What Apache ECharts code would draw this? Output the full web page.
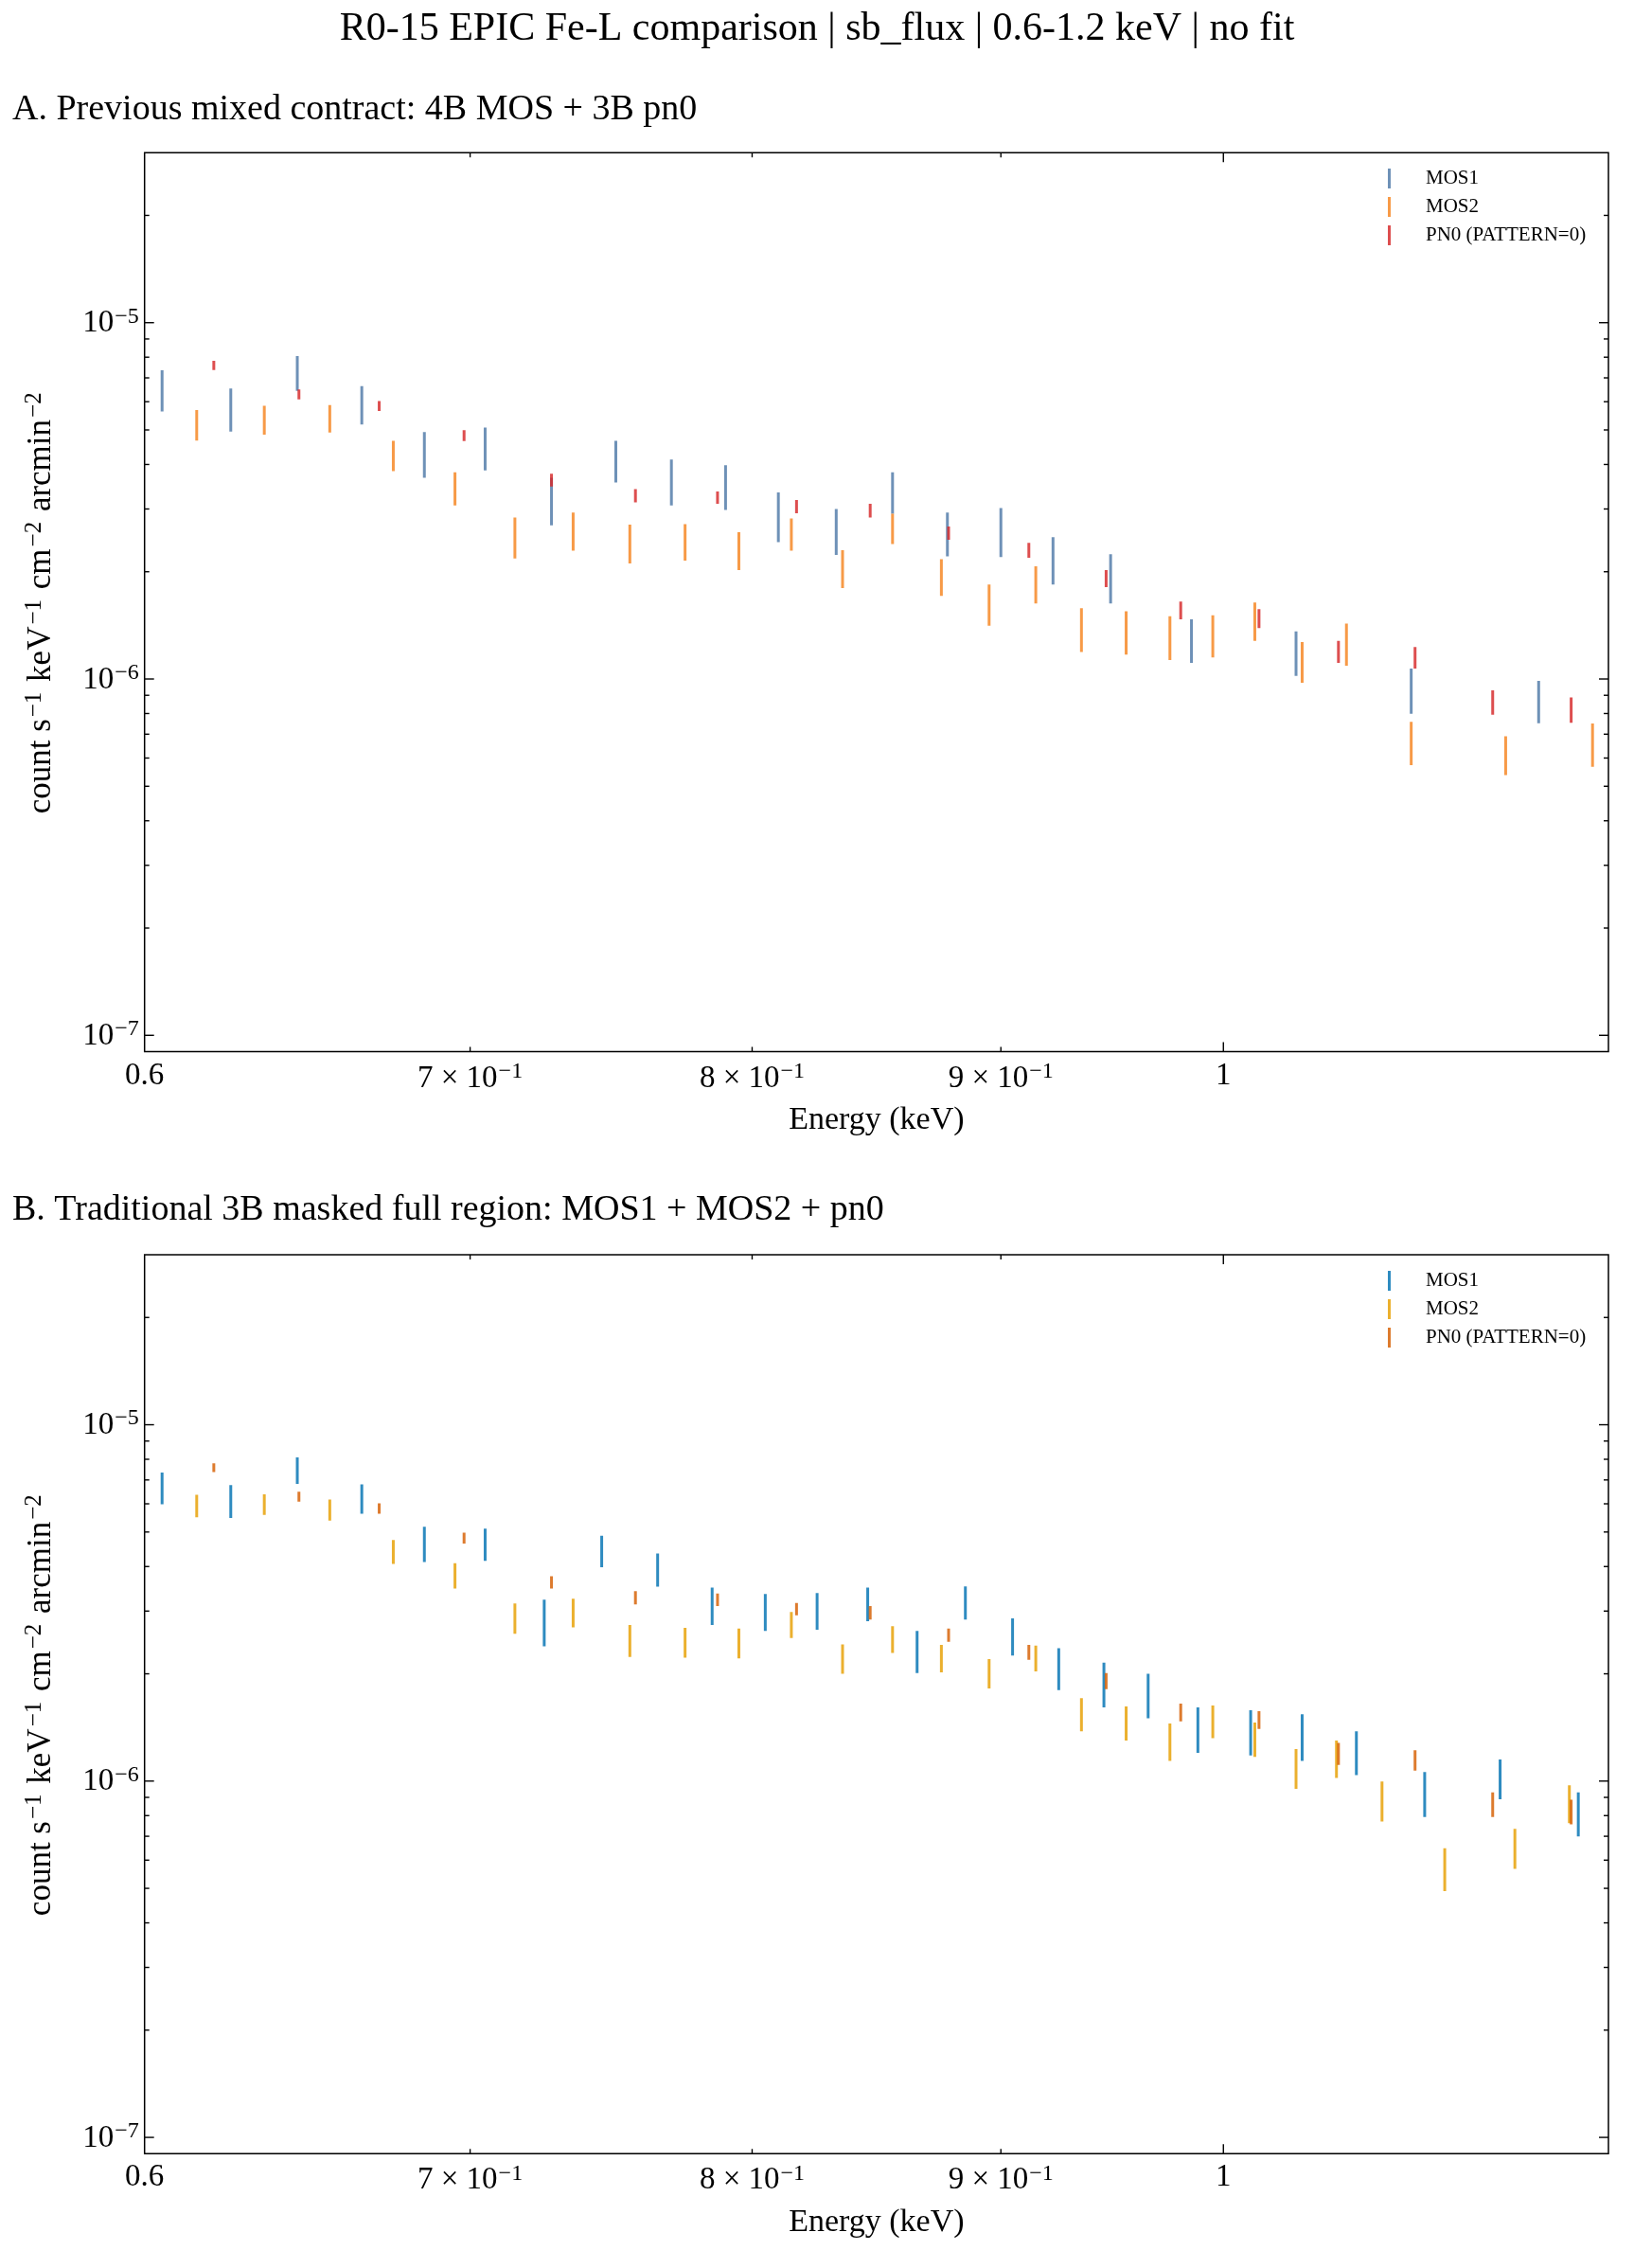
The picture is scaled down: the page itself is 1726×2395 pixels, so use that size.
<!DOCTYPE html>
<html>
<head>
<meta charset="utf-8">
<script src="https://cdn.jsdelivr.net/npm/echarts@6.0.0/dist/echarts.min.js"></script>
<style>
html,body{margin:0;padding:0;background:#ffffff;}
#chart{width:1726px;height:2395px;}
</style>
</head>
<body>
<div id="chart"></div>
<script>
// ---------------- text ----------------
const figTitle = 'R0-15 EPIC Fe-L comparison | sb_flux | 0.6-1.2 keV | no fit';
const panelTitles = ['A. Previous mixed contract: 4B MOS + 3B pn0',
                     'B. Traditional 3B masked full region: MOS1 + MOS2 + pn0'];
const seriesNames = ['MOS1', 'MOS2', 'PN0 (PATTERN=0)'];
const xAxisTitle = 'Energy (keV)';
const yAxisTitle = ['count s', '−1', ' keV', '−1', ' cm', '−2', ' arcmin', '−2'];

// ---------------- axes ----------------
const xRange = [0.6, 1.2];
const yRange = [9e-8, 3e-5];
const xTickValues = [0.6, 0.7, 0.8, 0.9, 1];
const xTickLabels = ['0.6', '7 × 10^−1', '8 × 10^−1', '9 × 10^−1', '1'];
const xMajorTicks = [1];
const xMinorTicks = [0.7, 0.8, 0.9];
const yTickValues = [1e-7, 1e-6, 1e-5];
const yTickLabels = ['10^−7', '10^−6', '10^−5'];
const yMinorTicks = [2e-7, 3e-7, 4e-7, 5e-7, 6e-7, 7e-7, 8e-7, 9e-7,
                     2e-6, 3e-6, 4e-6, 5e-6, 6e-6, 7e-6, 8e-6, 9e-6, 2e-5];

// ---------------- panel A data (energy keV, error-bar low/high) ----------------
const aMos1Energy = [0.605, 0.625, 0.645, 0.665, 0.685, 0.705, 0.7275, 0.750, 0.770, 0.790, 0.810, 0.8325, 0.855, 0.8775, 0.900, 0.9225, 0.948, 0.985, 1.035, 1.093, 1.161];
const aMos1Low  = [5.63e-6, 4.95e-6, 6.44e-6, 5.18e-6, 3.67e-6, 3.85e-6, 2.70e-6, 3.56e-6, 3.07e-6, 2.98e-6, 2.42e-6, 2.23e-6, 2.91e-6, 2.21e-6, 2.20e-6, 1.84e-6, 1.63e-6, 1.11e-6, 1.02e-6, 7.99e-7, 7.51e-7];
const aMos1High = [7.35e-6, 6.53e-6, 8.06e-6, 6.64e-6, 4.93e-6, 5.08e-6, 3.67e-6, 4.66e-6, 4.13e-6, 3.98e-6, 3.34e-6, 3.00e-6, 3.80e-6, 2.93e-6, 3.02e-6, 2.50e-6, 2.24e-6, 1.47e-6, 1.36e-6, 1.07e-6, 9.88e-7];

const aMos2Energy = [0.615, 0.635, 0.655, 0.675, 0.695, 0.715, 0.735, 0.755, 0.775, 0.795, 0.815, 0.835, 0.855, 0.875, 0.895, 0.915, 0.935, 0.955, 0.975, 0.995, 1.015, 1.038, 1.060, 1.093, 1.143, 1.191];
const aMos2Low  = [4.67e-6, 4.85e-6, 4.92e-6, 3.83e-6, 3.07e-6, 2.18e-6, 2.29e-6, 2.11e-6, 2.15e-6, 2.02e-6, 2.29e-6, 1.80e-6, 2.39e-6, 1.71e-6, 1.41e-6, 1.63e-6, 1.19e-6, 1.17e-6, 1.13e-6, 1.15e-6, 1.28e-6, 9.76e-7, 1.09e-6, 5.73e-7, 5.37e-7, 5.67e-7];
const aMos2High = [5.69e-6, 5.84e-6, 5.87e-6, 4.66e-6, 3.80e-6, 2.84e-6, 2.93e-6, 2.71e-6, 2.72e-6, 2.58e-6, 2.82e-6, 2.30e-6, 2.91e-6, 2.17e-6, 1.84e-6, 2.07e-6, 1.58e-6, 1.55e-6, 1.50e-6, 1.51e-6, 1.64e-6, 1.27e-6, 1.43e-6, 7.58e-7, 6.91e-7, 7.50e-7];

const aPn0Energy = [0.620, 0.6455, 0.6705, 0.698, 0.7275, 0.757, 0.787, 0.817, 0.846, 0.878, 0.912, 0.946, 0.980, 1.017, 1.056, 1.095, 1.136, 1.179];
const aPn0Low  = [7.36e-6, 6.09e-6, 5.65e-6, 4.65e-6, 3.47e-6, 3.13e-6, 3.10e-6, 2.92e-6, 2.84e-6, 2.46e-6, 2.19e-6, 1.81e-6, 1.47e-6, 1.39e-6, 1.11e-6, 1.07e-6, 7.94e-7, 7.54e-7];
const aPn0High = [7.81e-6, 6.50e-6, 6.03e-6, 4.99e-6, 3.77e-6, 3.41e-6, 3.36e-6, 3.18e-6, 3.10e-6, 2.68e-6, 2.41e-6, 2.02e-6, 1.65e-6, 1.57e-6, 1.28e-6, 1.23e-6, 9.29e-7, 8.88e-7];

// ---------------- panel B data ----------------
const bMos1Energy = [0.605, 0.625, 0.645, 0.665, 0.685, 0.705, 0.725, 0.745, 0.765, 0.785, 0.805, 0.825, 0.845, 0.865, 0.885, 0.905, 0.925, 0.945, 0.965, 0.988, 1.013, 1.038, 1.065, 1.100, 1.140, 1.183];
const bMos1Low  = [5.98e-6, 5.47e-6, 6.82e-6, 5.63e-6, 4.12e-6, 4.15e-6, 2.39e-6, 3.98e-6, 3.51e-6, 2.74e-6, 2.64e-6, 2.66e-6, 2.81e-6, 2.01e-6, 2.84e-6, 2.25e-6, 1.80e-6, 1.61e-6, 1.50e-6, 1.20e-6, 1.18e-6, 1.14e-6, 1.04e-6, 7.93e-7, 8.89e-7, 6.99e-7];
const bMos1High = [7.34e-6, 6.77e-6, 8.10e-6, 6.80e-6, 5.17e-6, 5.11e-6, 3.23e-6, 4.88e-6, 4.35e-6, 3.49e-6, 3.35e-6, 3.37e-6, 3.49e-6, 2.64e-6, 3.52e-6, 2.86e-6, 2.36e-6, 2.15e-6, 2.00e-6, 1.61e-6, 1.58e-6, 1.54e-6, 1.38e-6, 1.06e-6, 1.15e-6, 9.29e-7];

const bMos2Energy = [0.615, 0.635, 0.655, 0.675, 0.695, 0.715, 0.735, 0.755, 0.775, 0.795, 0.815, 0.835, 0.855, 0.875, 0.895, 0.915, 0.935, 0.955, 0.975, 0.995, 1.015, 1.035, 1.055, 1.078, 1.1105, 1.148, 1.178];
const bMos2Low  = [5.50e-6, 5.58e-6, 5.38e-6, 4.07e-6, 3.47e-6, 2.59e-6, 2.70e-6, 2.23e-6, 2.22e-6, 2.21e-6, 2.52e-6, 2.00e-6, 2.29e-6, 2.02e-6, 1.82e-6, 2.03e-6, 1.38e-6, 1.30e-6, 1.14e-6, 1.32e-6, 1.17e-6, 9.51e-7, 1.02e-6, 7.70e-7, 4.91e-7, 5.67e-7, 7.62e-7];
const bMos2High = [6.36e-6, 6.38e-6, 6.17e-6, 4.75e-6, 4.09e-6, 3.15e-6, 3.25e-6, 2.74e-6, 2.69e-6, 2.68e-6, 2.98e-6, 2.42e-6, 2.72e-6, 2.41e-6, 2.20e-6, 2.40e-6, 1.71e-6, 1.62e-6, 1.45e-6, 1.63e-6, 1.46e-6, 1.23e-6, 1.30e-6, 9.98e-7, 6.48e-7, 7.34e-7, 9.73e-7];

const bPn0Energy = [0.620, 0.6455, 0.6705, 0.698, 0.7275, 0.757, 0.787, 0.817, 0.846, 0.878, 0.912, 0.946, 0.980, 1.017, 1.056, 1.095, 1.136, 1.179];
const bPn0Low  = [7.36e-6, 6.08e-6, 5.63e-6, 4.64e-6, 3.47e-6, 3.13e-6, 3.10e-6, 2.92e-6, 2.84e-6, 2.46e-6, 2.19e-6, 1.81e-6, 1.47e-6, 1.40e-6, 1.11e-6, 1.07e-6, 7.93e-7, 7.56e-7];
const bPn0High = [7.80e-6, 6.49e-6, 6.02e-6, 4.98e-6, 3.76e-6, 3.41e-6, 3.36e-6, 3.16e-6, 3.10e-6, 2.68e-6, 2.41e-6, 2.01e-6, 1.65e-6, 1.57e-6, 1.28e-6, 1.22e-6, 9.29e-7, 8.87e-7];

// ---------------- style ----------------
const FONT = '"Liberation Serif", "Times New Roman", Times, serif';
const colorsA = ['#4e79a7', '#f5841f', '#d62728'];
const colorsB = ['#0072b2', '#e69f00', '#d55e00'];
const BAR_ALPHA = 0.82;
const TICK_FS = 33, SUP_FS = 24;
const gridA = {left: 152.7, top: 161.2, width: 1546.3, height: 949.3};
const gridB = {left: 152.7, top: 1325.0, width: 1546.3, height: 949.3};

const RICH = {
  b: {fontFamily: FONT, fontSize: TICK_FS, color: '#000', fill: '#000'},
  s: {fontFamily: FONT, fontSize: SUP_FS, color: '#000', fill: '#000', padding: [0, 0, 15, 1]}
};
function toRich(label) {
  const parts = label.split('^');
  return parts.length > 1 ? '{b|' + parts[0] + '}{s|' + parts[1] + '}' : '{b|' + parts[0] + '}';
}

function errSeries(name, E, lo, hi, color, gi) {
  return {
    type: 'custom', name: name, xAxisIndex: gi, yAxisIndex: gi,
    itemStyle: {color: color, opacity: BAR_ALPHA},
    data: E.map((e, i) => [e, lo[i], hi[i]]),
    encode: {x: 0, y: [1, 2]},
    clip: true, silent: true, animation: false, z: 3,
    renderItem: function (params, api) {
      const p1 = api.coord([api.value(0), api.value(1)]);
      const p2 = api.coord([api.value(0), api.value(2)]);
      return {type: 'line', shape: {x1: p1[0], y1: p1[1], x2: p2[0], y2: p2[1]},
              style: {stroke: color, lineWidth: 3, opacity: BAR_ALPHA, lineCap: 'butt'}};
    }
  };
}

function tickSeries(gi) {
  const data = [];
  yTickValues.forEach(v => data.push([xRange[0], v, 10, 0]));
  yMinorTicks.forEach(v => data.push([xRange[0], v, 5, 0]));
  xMajorTicks.forEach(v => data.push([v, yRange[0], 10, 1]));
  xMinorTicks.forEach(v => data.push([v, yRange[0], 5, 1]));
  return {
    type: 'custom', xAxisIndex: gi, yAxisIndex: gi, data: data, silent: true,
    animation: false, clip: false, z: 5, encode: {x: 0, y: 1},
    renderItem: function (params, api) {
      const cs = params.coordSys;
      const p = api.coord([api.value(0), api.value(1)]);
      const len = api.value(2);
      const st = {stroke: '#000', lineWidth: 1.4};
      if (api.value(3) === 0) {
        return {type: 'group', children: [
          {type: 'line', shape: {x1: cs.x, y1: p[1], x2: cs.x + len, y2: p[1]}, style: st},
          {type: 'line', shape: {x1: cs.x + cs.width, y1: p[1], x2: cs.x + cs.width - len, y2: p[1]}, style: st}
        ]};
      }
      return {type: 'group', children: [
        {type: 'line', shape: {x1: p[0], y1: cs.y + cs.height, x2: p[0], y2: cs.y + cs.height - len}, style: st},
        {type: 'line', shape: {x1: p[0], y1: cs.y, x2: p[0], y2: cs.y + len}, style: st}
      ]};
    }
  };
}

function labelSeries(gi) {
  const data = [];
  yTickValues.forEach((v, i) => data.push([xRange[0], v, i, 0]));
  xTickValues.forEach((v, i) => data.push([v, yRange[0], i, 1]));
  return {
    type: 'custom', xAxisIndex: gi, yAxisIndex: gi, data: data, silent: true,
    animation: false, clip: false, z: 5, encode: {x: 0, y: 1},
    renderItem: function (params, api) {
      const cs = params.coordSys;
      const p = api.coord([api.value(0), api.value(1)]);
      const idx = api.value(2);
      if (api.value(3) === 0) {
        return {type: 'text', x: cs.x - 6, y: p[1] + 1,
          style: {text: toRich(yTickLabels[idx]), rich: RICH, align: 'right', verticalAlign: 'middle',
                  fontFamily: FONT, fontSize: TICK_FS, fill: '#000'}};
      }
      return {type: 'text', x: p[0], y: cs.y + cs.height + 9,
        style: {text: toRich(xTickLabels[idx]), rich: RICH, align: 'center', verticalAlign: 'top',
                fontFamily: FONT, fontSize: TICK_FS, fill: '#000'}};
    }
  };
}

function makeGrid(g) {
  return {left: g.left, top: g.top, width: g.width, height: g.height, show: true,
          borderColor: '#000', borderWidth: 1.5, backgroundColor: 'transparent',
          containLabel: false, outerBoundsMode: 'none'};
}
function makeX(gi) {
  return {type: 'log', logBase: 10, gridIndex: gi, min: xRange[0], max: xRange[1],
          axisLine: {show: false}, axisTick: {show: false}, axisLabel: {show: false}, splitLine: {show: false},
          minorTick: {show: false},
          name: xAxisTitle, nameLocation: 'middle', nameGap: 56,
          nameTextStyle: {fontFamily: FONT, fontSize: 34, color: '#000'}};
}
const yNameRich = {
  b: {fontFamily: FONT, fontSize: 35, color: '#000'},
  s: {fontFamily: FONT, fontSize: 25, color: '#000', padding: [0, 2, 15, 2]}
};
function yNameText() {
  return yAxisTitle.map((t, i) => (i % 2 === 0 ? '{b|' + t + '}' : '{s|' + t + '}')).join('');
}
function makeY(gi) {
  return {type: 'log', logBase: 10, gridIndex: gi, min: yRange[0], max: yRange[1],
          axisLine: {show: false}, axisTick: {show: false}, axisLabel: {show: false}, splitLine: {show: false},
          minorTick: {show: false},
          name: yNameText(), nameLocation: 'middle', nameRotate: 90, nameGap: 89,
          nameTextStyle: {fontFamily: FONT, fontSize: 35, color: '#000', rich: yNameRich}};
}
function makeLegend(prefix, top) {
  return {show: true, orient: 'vertical', left: 1466, top: top, padding: 0,
          itemWidth: 3, itemHeight: 21, itemGap: 9, icon: 'rect', selectedMode: false,
          data: seriesNames.map(n => prefix + n),
          formatter: n => n.slice(prefix.length),
          textStyle: {fontFamily: FONT, fontSize: 21, color: '#000', padding: [0, 0, 0, 32]}};
}

const chart = echarts.init(document.getElementById('chart'), null, {renderer: 'canvas'});
chart.setOption({
  backgroundColor: '#ffffff',
  animation: false,
  textStyle: {fontFamily: FONT},
  title: [
    {text: figTitle, left: 'center', top: 10, padding: 0,
     textStyle: {fontFamily: FONT, fontSize: 42, fontWeight: 'normal', color: '#000'}},
    {text: panelTitles[0], left: 13, top: 97, padding: 0,
     textStyle: {fontFamily: FONT, fontSize: 38, fontWeight: 'normal', color: '#000'}},
    {text: panelTitles[1], left: 13, top: 1259, padding: 0,
     textStyle: {fontFamily: FONT, fontSize: 38, fontWeight: 'normal', color: '#000'}}
  ],
  legend: [makeLegend('A|', 178), makeLegend('B|', 1342)],
  grid: [makeGrid(gridA), makeGrid(gridB)],
  xAxis: [makeX(0), makeX(1)],
  yAxis: [makeY(0), makeY(1)],
  series: [
    errSeries('A|' + seriesNames[0], aMos1Energy, aMos1Low, aMos1High, colorsA[0], 0),
    errSeries('A|' + seriesNames[1], aMos2Energy, aMos2Low, aMos2High, colorsA[1], 0),
    errSeries('A|' + seriesNames[2], aPn0Energy, aPn0Low, aPn0High, colorsA[2], 0),
    errSeries('B|' + seriesNames[0], bMos1Energy, bMos1Low, bMos1High, colorsB[0], 1),
    errSeries('B|' + seriesNames[1], bMos2Energy, bMos2Low, bMos2High, colorsB[1], 1),
    errSeries('B|' + seriesNames[2], bPn0Energy, bPn0Low, bPn0High, colorsB[2], 1),
    tickSeries(0), tickSeries(1), labelSeries(0), labelSeries(1)
  ]
});
</script>
</body>
</html>
